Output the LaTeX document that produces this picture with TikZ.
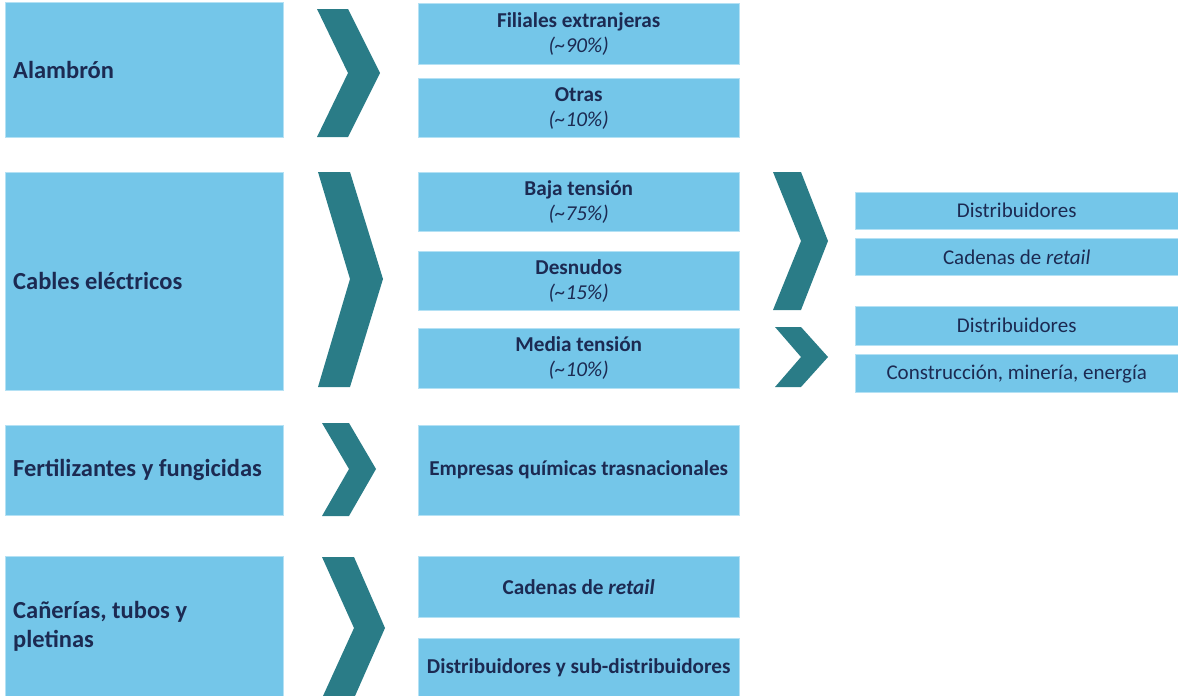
\documentclass[tikz,border=0pt]{standalone}
\usepackage{fontspec}
\setmainfont{Carlito}
\usepackage{xcolor}
\usetikzlibrary{positioning}
\definecolor{skyblue}{HTML}{74C6E9}
\definecolor{skyedge}{HTML}{B4E1F4}
\definecolor{petrol}{HTML}{2A7C87}
\definecolor{navy}{HTML}{1C2A52}

\begin{document}
\begin{tikzpicture}[
  x=1pt,y=-1pt,
  node distance=14pt,
  sector/.style={draw=skyedge,fill=skyblue,text=navy,anchor=north west,inner xsep=8pt,text width=262pt,minimum width=278pt,align=flush left,font=\fontsize{24.5}{29}\selectfont\bfseries},
  buyer/.style={draw=skyedge,fill=skyblue,text=navy,anchor=north west,minimum width=321pt,align=center,font=\fontsize{21.2}{25}\selectfont\bfseries},
  client/.style={draw=skyedge,fill=skyblue,text=navy,anchor=north west,minimum width=323pt,align=center,font=\fontsize{21}{24}\selectfont},
  chev/.style={fill=petrol}
]
\useasboundingbox (0,0) rectangle (1178,696);
% sectors
\node[sector,minimum height=135pt] (alam) at (5,2) {Alambrón};
\node[sector,minimum height=218pt] (cab) at (5,172) {Cables eléctricos};
\node[sector,minimum height=90pt] (fert) at (5,425) {Fertilizantes y fungicidas};
\node[sector,minimum height=140pt] (can) at (5,556) {Cañerías, tubos y\\pletinas};
% buyers
\node[buyer,minimum height=61pt] (fil) at (418,3) {Filiales extranjeras\\{\mdseries\itshape (\textasciitilde 90\%)}};
\node[buyer,minimum height=59pt,below=14pt of fil] (otr) {Otras\\{\mdseries\itshape (\textasciitilde 10\%)}};
\node[buyer,minimum height=59pt] (baja) at (418,172) {Baja tensión\\{\mdseries\itshape (\textasciitilde 75\%)}};
\node[buyer,minimum height=59pt,below=20pt of baja] (desn) {Desnudos\\{\mdseries\itshape (\textasciitilde 15\%)}};
\node[buyer,minimum height=60pt,below=17pt of desn] (med) {Media tensión\\{\mdseries\itshape (\textasciitilde 10\%)}};
\node[buyer,minimum height=90pt] (emp) at (418,425) {Empresas químicas trasnacionales};
\node[buyer,minimum height=61pt] (cadr) at (418,556) {Cadenas de \textit{retail}};
\node[buyer,minimum height=58pt,below=21pt of cadr] (dist) {Distribuidores y sub-distribuidores};
% clients
\node[client,minimum height=37pt] (dist1) at (855,192) {Distribuidores};
\node[client,minimum height=37pt,below=9pt of dist1] (cad1) {Cadenas de \textit{retail}};
\node[client,minimum height=39pt] (dist2) at (855,306) {Distribuidores};
\node[client,minimum height=38pt,below=9pt of dist2] (cons) {Construcción, minería, energía};
% chevrons
\fill[chev] (317,9) -- (348,9) -- (380,73) -- (348,137) -- (317,137) -- (348,73) -- cycle;
\fill[chev] (318,172) -- (350,172) -- (383,279) -- (350,387) -- (318,387) -- (350,279) -- cycle;
\fill[chev] (322,423) -- (349,423) -- (376,469) -- (349,516) -- (322,516) -- (349,469) -- cycle;
\fill[chev] (322,557) -- (354,557) -- (385,628) -- (355,696) -- (323,696) -- (354,628) -- cycle;
\fill[chev] (773,172) -- (801,172) -- (828,241) -- (801,310) -- (773,310) -- (801,241) -- cycle;
\fill[chev] (775,327) -- (801,327) -- (828,357) -- (801,387) -- (775,387) -- (801,357) -- cycle;
\end{tikzpicture}
\end{document}
